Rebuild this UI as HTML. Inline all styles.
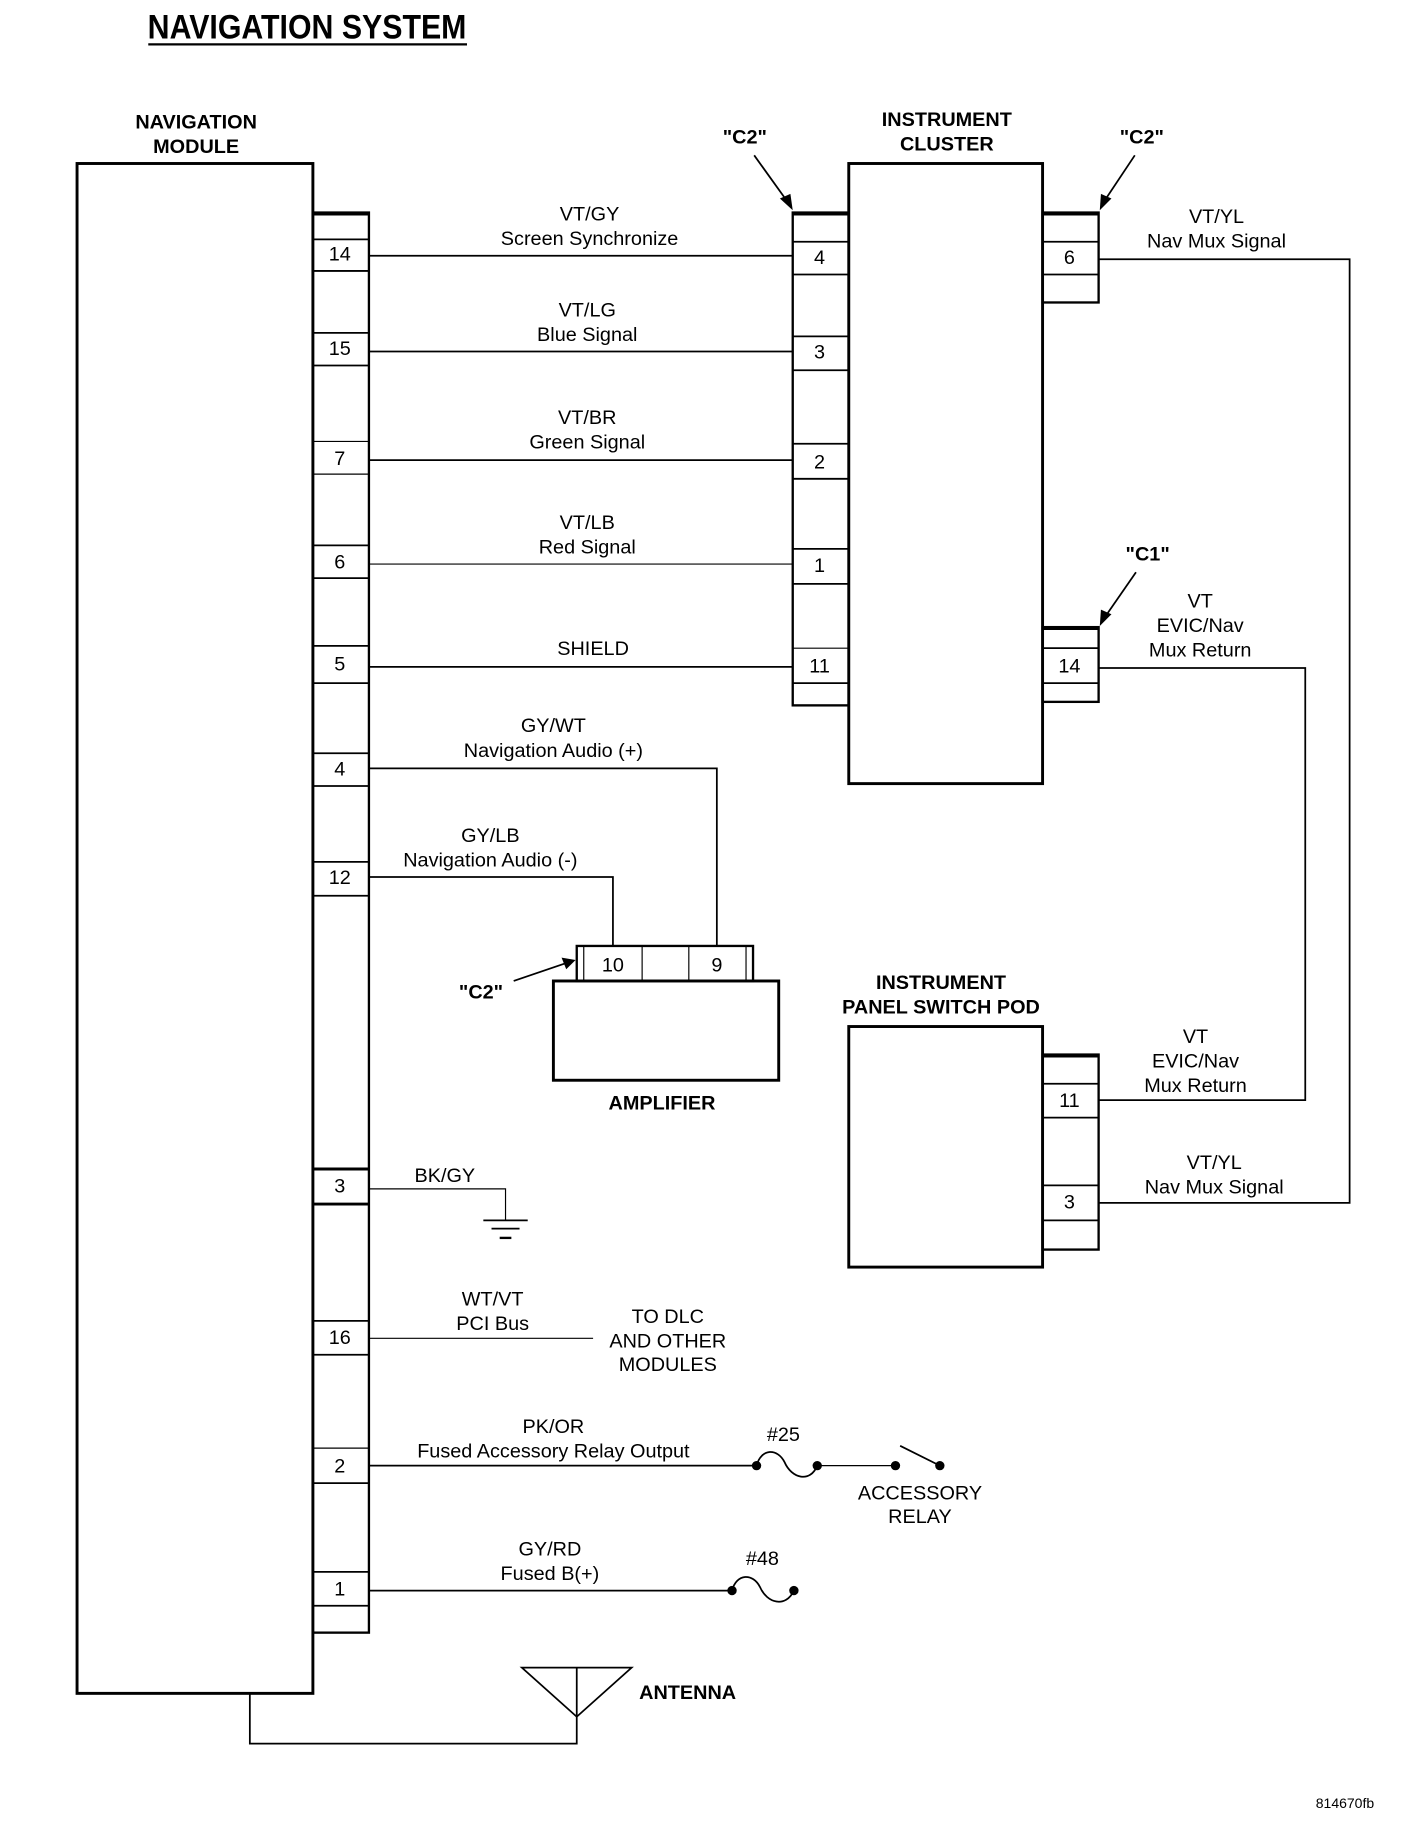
<!DOCTYPE html>
<html><head><meta charset="utf-8"><style>
html,body{margin:0;padding:0;background:#fff;}
svg{display:block;}
text{font-family:"Liberation Sans",sans-serif;font-size:17px;fill:#000;text-anchor:middle;}
.b{font-weight:bold;}
</style></head><body>
<svg width="1408" height="1830" viewBox="0 0 1206 1567" preserveAspectRatio="none" xmlns="http://www.w3.org/2000/svg">
<g stroke="#000" fill="none" stroke-width="1.5">
<line x1="127" y1="38" x2="400" y2="38" stroke-width="2"/>
<rect x="66" y="140" width="202" height="1310" stroke-width="2.5"/>
<rect x="268" y="182" width="48" height="1216" stroke-width="2"/>
<line x1="268" y1="183" x2="316" y2="183" stroke-width="3"/>
<g stroke-width="1.5">
<line x1="268" y1="205" x2="316" y2="205"/><line x1="268" y1="232" x2="316" y2="232"/>
<line x1="268" y1="285" x2="316" y2="285"/><line x1="268" y1="313" x2="316" y2="313"/>
<line x1="268" y1="378" x2="316" y2="378" stroke-width="1"/><line x1="268" y1="406" x2="316" y2="406" stroke-width="1"/>
<line x1="268" y1="467" x2="316" y2="467"/><line x1="268" y1="495" x2="316" y2="495"/>
<line x1="268" y1="553" x2="316" y2="553"/><line x1="268" y1="585" x2="316" y2="585"/>
<line x1="268" y1="645" x2="316" y2="645"/><line x1="268" y1="673" x2="316" y2="673"/>
<line x1="268" y1="738" x2="316" y2="738"/><line x1="268" y1="767" x2="316" y2="767"/>
<line x1="268" y1="1001" x2="316" y2="1001" stroke-width="2.5"/><line x1="268" y1="1031" x2="316" y2="1031" stroke-width="2.5"/>
<line x1="268" y1="1131" x2="316" y2="1131"/><line x1="268" y1="1160" x2="316" y2="1160"/>
<line x1="268" y1="1240" x2="316" y2="1240" stroke-width="1"/><line x1="268" y1="1270" x2="316" y2="1270"/>
<line x1="268" y1="1346" x2="316" y2="1346"/><line x1="268" y1="1375" x2="316" y2="1375"/>
</g>
<rect x="727" y="140" width="166" height="531" stroke-width="2.5"/>
<rect x="679" y="182" width="48" height="422" stroke-width="2"/>
<line x1="679" y1="183" x2="727" y2="183" stroke-width="3"/>
<line x1="679" y1="207" x2="727" y2="207"/><line x1="679" y1="235" x2="727" y2="235"/>
<line x1="679" y1="288" x2="727" y2="288"/><line x1="679" y1="317" x2="727" y2="317"/>
<line x1="679" y1="380" x2="727" y2="380"/><line x1="679" y1="410" x2="727" y2="410"/>
<line x1="679" y1="470" x2="727" y2="470"/><line x1="679" y1="500" x2="727" y2="500"/>
<line x1="679" y1="555" x2="727" y2="555" stroke-width="1"/><line x1="679" y1="585" x2="727" y2="585"/>
<rect x="893" y="182" width="48" height="77" stroke-width="2"/>
<line x1="893" y1="183" x2="941" y2="183" stroke-width="3"/>
<line x1="893" y1="207" x2="941" y2="207"/><line x1="893" y1="235" x2="941" y2="235"/>
<rect x="893" y="537" width="48" height="64" stroke-width="2"/>
<line x1="893" y1="538" x2="941" y2="538" stroke-width="3"/>
<line x1="893" y1="555" x2="941" y2="555"/><line x1="893" y1="585" x2="941" y2="585"/>
<line x1="316" y1="219" x2="679" y2="219"/>
<line x1="316" y1="301" x2="679" y2="301"/>
<line x1="316" y1="394" x2="679" y2="394"/>
<line x1="316" y1="483" x2="679" y2="483" stroke-width="1"/>
<line x1="316" y1="571" x2="679" y2="571"/>
<polyline points="941,222 1156,222 1156,1030 941,1030"/>
<polyline points="941,572 1118,572 1118,942 941,942"/>
<rect x="727" y="879" width="166" height="206" stroke-width="2.5"/>
<rect x="893" y="903" width="48" height="167" stroke-width="2"/>
<line x1="893" y1="904" x2="941" y2="904" stroke-width="3"/>
<line x1="893" y1="928" x2="941" y2="928"/><line x1="893" y1="957" x2="941" y2="957"/>
<line x1="893" y1="1015" x2="941" y2="1015"/><line x1="893" y1="1045" x2="941" y2="1045"/>
<rect x="474" y="840" width="193" height="85" stroke-width="2.5"/>
<rect x="494" y="810" width="151" height="30" stroke-width="2"/>
<line x1="500" y1="810" x2="500" y2="840" stroke-width="1"/>
<line x1="639" y1="810" x2="639" y2="840" stroke-width="1"/>
<line x1="550" y1="810" x2="550" y2="840" stroke-width="1"/>
<line x1="590" y1="810" x2="590" y2="840" stroke-width="1"/>
<polyline points="316,658 614,658 614,810"/>
<polyline points="316,751 525,751 525,810"/>
<polyline points="316,1018 433,1018 433,1045" stroke-width="1"/>
<line x1="414" y1="1045" x2="452" y2="1045"/>
<line x1="421" y1="1052" x2="445" y2="1052"/>
<line x1="428" y1="1060" x2="438" y2="1060" stroke-width="2"/>
<line x1="316" y1="1146" x2="508" y2="1146" stroke-width="1"/>
<line x1="316" y1="1255" x2="648" y2="1255"/>
<path d="M648,1255 C652,1240 666,1240 672,1252 C678,1266 694,1270 700,1255"/>
<line x1="700" y1="1255" x2="767" y2="1255" stroke-width="1"/>
<line x1="771" y1="1238" x2="805" y2="1255"/>
<line x1="316" y1="1362" x2="627" y2="1362"/>
<path d="M627,1362 C631,1347 645,1347 651,1359 C657,1373 673,1377 680,1362"/>
<polygon points="447,1428 541,1428 494,1470"/>
<line x1="494" y1="1428" x2="494" y2="1470"/>
<polyline points="214,1450 214,1493 494,1493 494,1470"/>
<line x1="646" y1="133" x2="674" y2="172"/>
<line x1="972" y1="133" x2="946" y2="172"/>
<line x1="973" y1="490" x2="946" y2="529"/>
<line x1="440" y1="840" x2="484" y2="825"/>
</g>
<g fill="#000">
<circle cx="648" cy="1255" r="4"/><circle cx="700" cy="1255" r="4"/><circle cx="767" cy="1255" r="4"/><circle cx="805" cy="1255" r="4"/>
<circle cx="627" cy="1362" r="4"/><circle cx="680" cy="1362" r="4"/>
<polygon points="679,180 668,170 677,166"/>
<polygon points="942,180 943,166 952,170"/>
<polygon points="942,536 943,522 952,526"/>
<polygon points="493,822 481,820 485,830"/>
</g>
<text x="263" y="33" class="b" textLength="273" lengthAdjust="spacingAndGlyphs" style="font-size:29px">NAVIGATION SYSTEM</text>
<text x="168" y="110" class="b">NAVIGATION</text>
<text x="168" y="131" class="b">MODULE</text>
<text x="811" y="108" class="b">INSTRUMENT</text>
<text x="811" y="129" class="b">CLUSTER</text>
<text x="638" y="123" class="b">"C2"</text>
<text x="978" y="123" class="b">"C2"</text>
<text x="983" y="480" class="b">"C1"</text>
<text x="412" y="855" class="b">"C2"</text>
<text x="806" y="847" class="b">INSTRUMENT</text>
<text x="806" y="868" class="b">PANEL SWITCH POD</text>
<text x="567" y="950" class="b">AMPLIFIER</text>
<text x="589" y="1455" class="b">ANTENNA</text>
<g>
<text x="291" y="223">14</text><text x="291" y="304">15</text><text x="291" y="398">7</text><text x="291" y="487">6</text>
<text x="291" y="574">5</text><text x="291" y="664">4</text><text x="291" y="757">12</text><text x="291" y="1021">3</text>
<text x="291" y="1151">16</text><text x="291" y="1261">2</text><text x="291" y="1366">1</text>
<text x="702" y="226">4</text><text x="702" y="307">3</text><text x="702" y="401">2</text><text x="702" y="490">1</text><text x="702" y="576">11</text>
<text x="916" y="226">6</text><text x="916" y="576">14</text>
<text x="916" y="948">11</text><text x="916" y="1035">3</text>
<text x="525" y="832">10</text><text x="614" y="832">9</text>
</g>
<text x="505" y="189">VT/GY</text><text x="505" y="210">Screen Synchronize</text>
<text x="503" y="271">VT/LG</text><text x="503" y="292">Blue Signal</text>
<text x="503" y="363">VT/BR</text><text x="503" y="384">Green Signal</text>
<text x="503" y="453">VT/LB</text><text x="503" y="474">Red Signal</text>
<text x="508" y="561">SHIELD</text>
<text x="474" y="627">GY/WT</text><text x="474" y="648">Navigation Audio (+)</text>
<text x="420" y="721">GY/LB</text><text x="420" y="742">Navigation Audio (-)</text>
<text x="381" y="1012">BK/GY</text>
<text x="422" y="1118">WT/VT</text><text x="422" y="1139">PCI Bus</text>
<text x="572" y="1133">TO DLC</text><text x="572" y="1154">AND OTHER</text><text x="572" y="1174">MODULES</text>
<text x="474" y="1227">PK/OR</text><text x="474" y="1248">Fused Accessory Relay Output</text>
<text x="671" y="1234">#25</text>
<text x="788" y="1284">ACCESSORY</text><text x="788" y="1304">RELAY</text>
<text x="471" y="1332">GY/RD</text><text x="471" y="1353">Fused B(+)</text>
<text x="653" y="1340">#48</text>
<text x="1042" y="191">VT/YL</text><text x="1042" y="212">Nav Mux Signal</text>
<text x="1028" y="520">VT</text><text x="1028" y="541">EVIC/Nav</text><text x="1028" y="562">Mux Return</text>
<text x="1024" y="893">VT</text><text x="1024" y="914">EVIC/Nav</text><text x="1024" y="935">Mux Return</text>
<text x="1040" y="1001">VT/YL</text><text x="1040" y="1022">Nav Mux Signal</text>
<text x="1152" y="1548" style="font-size:12px">814670fb</text>
</svg>
</body></html>
